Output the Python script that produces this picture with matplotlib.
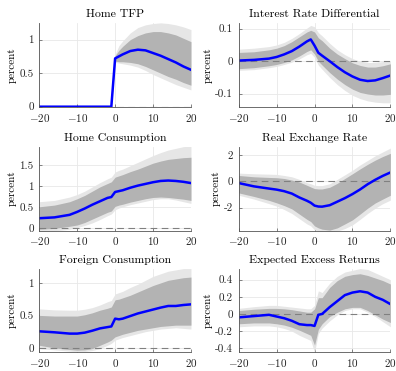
import matplotlib
matplotlib.use("Agg")
import matplotlib.pyplot as plt
from matplotlib.ticker import FuncFormatter

plt.rcParams['font.family'] = 'cmr10'
plt.rcParams['mathtext.fontset'] = 'cm'
plt.rcParams['axes.unicode_minus'] = False
plt.rcParams['axes.formatter.use_mathtext'] = True

# horizon (quarters)
x = [-20, -16, -12, -10, -8, -6, -4, -2, -1, 0, 1, 2, 4, 6, 8, 10, 12, 14, 16, 18, 20]

# Home TFP
tfp_med = [0, 0, 0, 0, 0, 0, 0, 0, 0, 0.72, 0.75, 0.78, 0.83, 0.85, 0.84, 0.80, 0.76, 0.71, 0.66, 0.60, 0.55]
tfp_in_lo = [0, 0, 0, 0, 0, 0, 0, 0, 0, 0.68, 0.67, 0.67, 0.66, 0.64, 0.60, 0.55, 0.50, 0.45, 0.41, 0.36, 0.32]
tfp_in_hi = [0, 0, 0, 0, 0, 0, 0, 0, 0, 0.76, 0.84, 0.90, 1.00, 1.06, 1.10, 1.12, 1.12, 1.10, 1.07, 1.02, 0.97]
tfp_out_lo = [0, 0, 0, 0, 0, 0, 0, 0, 0, 0.66, 0.65, 0.64, 0.62, 0.59, 0.54, 0.48, 0.43, 0.38, 0.33, 0.29, 0.25]
tfp_out_hi = [0, 0, 0, 0, 0, 0, 0, 0, 0, 0.78, 0.91, 0.98, 1.10, 1.18, 1.22, 1.24, 1.25, 1.24, 1.22, 1.19, 1.15]

# Interest rate differential
ird_med = [0.002, 0.004, 0.008, 0.013, 0.021, 0.031, 0.045, 0.061, 0.067, 0.048, 0.026, 0.017, 0.0, -0.018, -0.034, -0.047, -0.057, -0.061, -0.059, -0.052, -0.044]
ird_in_lo = [-0.023, -0.020, -0.014, -0.010, -0.004, 0.004, 0.016, 0.030, 0.035, 0.022, 0.0, -0.012, -0.035, -0.055, -0.072, -0.086, -0.096, -0.101, -0.104, -0.104, -0.102]
ird_in_hi = [0.027, 0.029, 0.035, 0.040, 0.048, 0.060, 0.075, 0.090, 0.095, 0.090, 0.072, 0.063, 0.040, 0.022, 0.008, -0.005, -0.013, -0.018, -0.018, -0.014, -0.008]
ird_out_lo = [-0.028, -0.026, -0.020, -0.016, -0.010, -0.003, 0.007, 0.020, 0.024, 0.012, -0.012, -0.025, -0.050, -0.072, -0.090, -0.105, -0.115, -0.122, -0.126, -0.128, -0.128]
ird_out_hi = [0.037, 0.040, 0.045, 0.050, 0.058, 0.070, 0.085, 0.102, 0.110, 0.106, 0.088, 0.078, 0.055, 0.035, 0.020, 0.008, 0.0, -0.004, -0.004, -0.001, 0.002]

# Home consumption
hc_med = [0.24, 0.26, 0.32, 0.39, 0.47, 0.56, 0.64, 0.72, 0.74, 0.86, 0.88, 0.90, 0.96, 1.01, 1.05, 1.09, 1.12, 1.13, 1.12, 1.10, 1.07]
hc_in_lo = [-0.02, 0.0, 0.05, 0.08, 0.14, 0.22, 0.30, 0.38, 0.41, 0.52, 0.55, 0.57, 0.62, 0.66, 0.70, 0.73, 0.74, 0.73, 0.71, 0.69, 0.66]
hc_in_hi = [0.51, 0.55, 0.63, 0.70, 0.78, 0.88, 0.98, 1.06, 1.10, 1.21, 1.24, 1.27, 1.34, 1.40, 1.47, 1.54, 1.59, 1.63, 1.65, 1.67, 1.68]
hc_out_lo = [-0.08, -0.06, -0.02, 0.02, 0.07, 0.13, 0.21, 0.30, 0.34, 0.44, 0.48, 0.51, 0.56, 0.60, 0.64, 0.68, 0.70, 0.70, 0.67, 0.63, 0.59]
hc_out_hi = [0.63, 0.66, 0.74, 0.80, 0.88, 0.98, 1.08, 1.17, 1.21, 1.33, 1.37, 1.40, 1.48, 1.56, 1.64, 1.72, 1.79, 1.85, 1.89, 1.93, 1.95]

# Real exchange rate
rer_med = [-0.13, -0.38, -0.55, -0.63, -0.75, -0.93, -1.23, -1.48, -1.63, -1.85, -1.92, -1.93, -1.82, -1.55, -1.28, -0.97, -0.62, -0.22, 0.12, 0.42, 0.68]
rer_in_lo = [-0.88, -1.15, -1.45, -1.64, -1.85, -2.10, -2.50, -2.90, -3.07, -3.40, -3.55, -3.65, -3.72, -3.55, -3.25, -2.94, -2.50, -2.05, -1.65, -1.35, -1.06]
rer_in_hi = [0.45, 0.35, 0.30, 0.28, 0.22, 0.10, -0.05, -0.30, -0.43, -0.55, -0.58, -0.58, -0.45, -0.15, 0.22, 0.58, 0.95, 1.30, 1.62, 1.90, 2.14]
rer_out_lo = [-1.06, -1.35, -1.70, -1.89, -2.15, -2.45, -2.85, -3.25, -3.40, -3.70, -3.80, -3.85, -3.85, -3.80, -3.60, -3.32, -2.90, -2.45, -2.05, -1.70, -1.43]
rer_out_hi = [0.63, 0.58, 0.55, 0.53, 0.45, 0.35, 0.15, -0.10, -0.18, -0.30, -0.32, -0.32, -0.18, 0.15, 0.50, 0.85, 1.25, 1.60, 1.95, 2.25, 2.54]

# Foreign consumption
fc_med = [0.255, 0.24, 0.22, 0.22, 0.235, 0.265, 0.30, 0.32, 0.33, 0.45, 0.44, 0.45, 0.49, 0.53, 0.56, 0.59, 0.62, 0.645, 0.645, 0.66, 0.67]
fc_in_lo = [0.04, 0.0, -0.025, -0.035, -0.03, -0.01, 0.04, 0.09, 0.12, 0.17, 0.19, 0.21, 0.24, 0.27, 0.29, 0.31, 0.33, 0.34, 0.35, 0.35, 0.35]
fc_in_hi = [0.50, 0.49, 0.49, 0.49, 0.51, 0.54, 0.58, 0.61, 0.63, 0.74, 0.75, 0.77, 0.81, 0.86, 0.91, 0.96, 1.00, 1.04, 1.06, 1.08, 1.09]
fc_out_lo = [-0.01, -0.03, -0.05, -0.06, -0.055, -0.04, -0.01, 0.04, 0.07, 0.12, 0.14, 0.16, 0.19, 0.22, 0.25, 0.27, 0.29, 0.30, 0.31, 0.30, 0.29]
fc_out_hi = [0.60, 0.585, 0.58, 0.58, 0.595, 0.62, 0.66, 0.71, 0.73, 0.83, 0.85, 0.87, 0.93, 0.98, 1.04, 1.10, 1.14, 1.18, 1.20, 1.22, 1.22]

# Expected excess returns
eer_med = [-0.04, -0.025, -0.01, -0.03, -0.05, -0.08, -0.12, -0.13, -0.13, -0.14, -0.01, 0.0, 0.08, 0.15, 0.22, 0.25, 0.265, 0.25, 0.20, 0.165, 0.115]
eer_in_lo = [-0.115, -0.105, -0.105, -0.115, -0.13, -0.155, -0.19, -0.23, -0.25, -0.365, -0.18, -0.115, -0.03, 0.02, 0.06, 0.077, 0.077, 0.04, -0.01, -0.06, -0.10]
eer_in_hi = [0.04, 0.055, 0.065, 0.065, 0.06, 0.05, 0.035, 0.02, 0.02, 0.06, 0.19, 0.19, 0.31, 0.39, 0.44, 0.46, 0.47, 0.45, 0.42, 0.39, 0.35]
eer_out_lo = [-0.15, -0.14, -0.14, -0.15, -0.17, -0.20, -0.25, -0.29, -0.31, -0.45, -0.23, -0.165, -0.08, -0.01, 0.04, 0.06, 0.06, 0.02, -0.03, -0.09, -0.15]
eer_out_hi = [0.065, 0.085, 0.10, 0.10, 0.09, 0.08, 0.07, 0.06, 0.06, 0.10, 0.27, 0.25, 0.36, 0.44, 0.49, 0.51, 0.53, 0.52, 0.48, 0.44, 0.40]

titles = ["Home TFP", "Interest Rate Differential", "Home Consumption",
          "Real Exchange Rate", "Foreign Consumption", "Expected Excess Returns"]

panels = [
    (tfp_med, tfp_in_lo, tfp_in_hi, tfp_out_lo, tfp_out_hi, (0, 1.25), [0, 0.5, 1]),
    (ird_med, ird_in_lo, ird_in_hi, ird_out_lo, ird_out_hi, (-0.14, 0.118), [-0.1, 0, 0.1]),
    (hc_med, hc_in_lo, hc_in_hi, hc_out_lo, hc_out_hi, (-0.05, 1.93), [0, 0.5, 1, 1.5]),
    (rer_med, rer_in_lo, rer_in_hi, rer_out_lo, rer_out_hi, (-3.75, 2.65), [-2, 0, 2]),
    (fc_med, fc_in_lo, fc_in_hi, fc_out_lo, fc_out_hi, (-0.07, 1.22), [0, 0.5, 1]),
    (eer_med, eer_in_lo, eer_in_hi, eer_out_lo, eer_out_hi, (-0.45, 0.53), [-0.4, -0.2, 0, 0.2, 0.4]),
]

# axes boxes in figure fraction: [left, bottom, width, height]
lefts = [0.0992, 0.6028]
bottoms = [0.7124, 0.3787, 0.050]
w, h = 0.383, 0.226

fig = plt.figure(figsize=(3.96, 3.71), dpi=100)

for i, (med, ilo, ihi, olo, ohi, ylim, yticks) in enumerate(panels):
    ax = fig.add_axes([lefts[i % 2], bottoms[i // 2], w, h])
    ax.fill_between(x, olo, ohi, color='#e6e6e6', lw=0)
    ax.fill_between(x, ilo, ihi, color='#b3b3b3', lw=0)
    ax.axhline(0, color='#808080', lw=0.8, ls=(0, (6, 4)))
    ax.plot(x, med, color='#0000ff', lw=1.8)
    ax.set_xlim(-20, 20)
    ax.set_ylim(*ylim)
    ax.set_xticks([-20, -10, 0, 10, 20])
    ax.set_yticks(yticks)
    ax.yaxis.set_major_formatter(FuncFormatter(lambda v, p: '%g' % round(v, 3)))
    ax.grid(True, color='#e8e8e8', lw=0.6)
    ax.set_axisbelow(True)
    for s in ['top', 'right']:
        ax.spines[s].set_visible(False)
    for s in ['left', 'bottom']:
        ax.spines[s].set_color('#555555')
        ax.spines[s].set_linewidth(0.6)
    ax.tick_params(direction='in', length=2, width=0.5, color='#555555',
                   labelsize=8, labelcolor='#222222')
    ax.tick_params(axis='x', pad=3.5)
    ax.tick_params(axis='y', pad=4)
    ax.set_title(titles[i], fontsize=8.5, pad=4)
    ax.set_ylabel('percent', fontsize=8, labelpad=2)

fig.savefig('out.png', dpi=100)
